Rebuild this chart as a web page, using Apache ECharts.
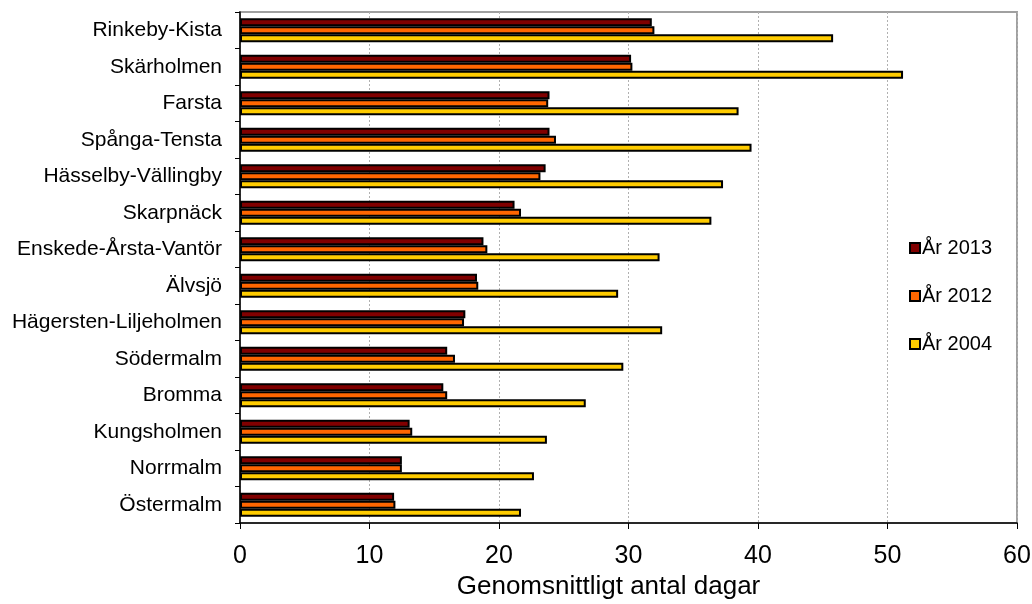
<!DOCTYPE html>
<html>
<head>
<meta charset="utf-8">
<script src="https://cdn.jsdelivr.net/npm/echarts@6/dist/echarts.min.js"></script>
<style>
  html, body { margin: 0; padding: 0; background: #fff; }
  #chart { width: 1032px; height: 604px; }
</style>
</head>
<body>
<div id="chart"></div>
<script>
// Stadsdelar, listed top to bottom
const districts = [
  'Rinkeby-Kista', 'Skärholmen', 'Farsta', 'Spånga-Tensta', 'Hässelby-Vällingby',
  'Skarpnäck', 'Enskede-Årsta-Vantör', 'Älvsjö', 'Hägersten-Liljeholmen',
  'Södermalm', 'Bromma', 'Kungsholmen', 'Norrmalm', 'Östermalm'
];

// Genomsnittligt antal dagar per år
const year2013 = [31.8, 30.2, 23.9, 23.9, 23.6, 21.2, 18.8, 18.3, 17.4, 16.0, 15.7, 13.1, 12.5, 11.9];
const year2012 = [32.0, 30.3, 23.8, 24.4, 23.2, 21.7, 19.1, 18.4, 17.3, 16.6, 16.0, 13.3, 12.5, 12.0];
const year2004 = [45.8, 51.2, 38.5, 39.5, 37.3, 36.4, 32.4, 29.2, 32.6, 29.6, 26.7, 23.7, 22.7, 21.7];

const seriesNames = ['År 2013', 'År 2012', 'År 2004'];
const seriesColors = ['#800000', '#FF6600', '#FFCC00'];
const seriesData = [year2013, year2012, year2004];

const xTicks = [0, 10, 20, 30, 40, 50, 60];
const xTitle = 'Genomsnittligt antal dagar';

const font = '"Liberation Sans", Arial, sans-serif';
const chart = echarts.init(document.getElementById('chart'), null, { renderer: 'canvas' });

chart.setOption({
  animation: false,
  backgroundColor: '#ffffff',
  grid: {
    left: 240, right: 15, top: 12, bottom: 81,
    outerBoundsMode: 'none',
    containLabel: false,
    show: true,
    borderColor: '#a0a0a0',
    borderWidth: 2,
    backgroundColor: 'transparent'
  },
  legend: {
    orient: 'vertical',
    left: 904,
    top: 233,
    itemWidth: 10,
    itemHeight: 10,
    itemGap: 28,
    icon: 'rect',
    textStyle: { fontFamily: font, fontSize: 20, color: '#000', padding: [0, 0, 0, -3] },
    data: seriesNames
  },
  xAxis: {
    type: 'value',
    min: xTicks[0],
    max: xTicks[xTicks.length - 1],
    interval: 10,
    name: xTitle,
    nameLocation: 'middle',
    nameGap: 51,
    nameTextStyle: { fontFamily: font, fontSize: 26, color: '#000', padding: [0, 40, 0, 0] },
    axisLine: { show: true, lineStyle: { color: '#000', width: 1.5 } },
    axisTick: { show: true, length: 6, lineStyle: { color: '#000' } },
    axisLabel: { fontFamily: font, fontSize: 25, color: '#000', margin: 21 },
    splitLine: { show: true, lineStyle: { color: '#b0b0b0', type: [2, 2], width: 1 } }
  },
  yAxis: {
    type: 'category',
    inverse: true,
    data: districts,
    axisLine: { show: true, lineStyle: { color: '#000', width: 1.5 } },
    axisTick: { show: true, length: 5, lineStyle: { color: '#000' } },
    axisLabel: { fontFamily: font, fontSize: 21, color: '#000', margin: 18 },
    splitLine: { show: false }
  },
  series: seriesNames.map((name, i) => ({
    name: name,
    type: 'bar',
    data: seriesData[i],
    barWidth: 8,
    barGap: '0%',
    itemStyle: {
      color: seriesColors[i],
      borderColor: '#000',
      borderWidth: 2
    }
  }))
});
</script>
</body>
</html>
